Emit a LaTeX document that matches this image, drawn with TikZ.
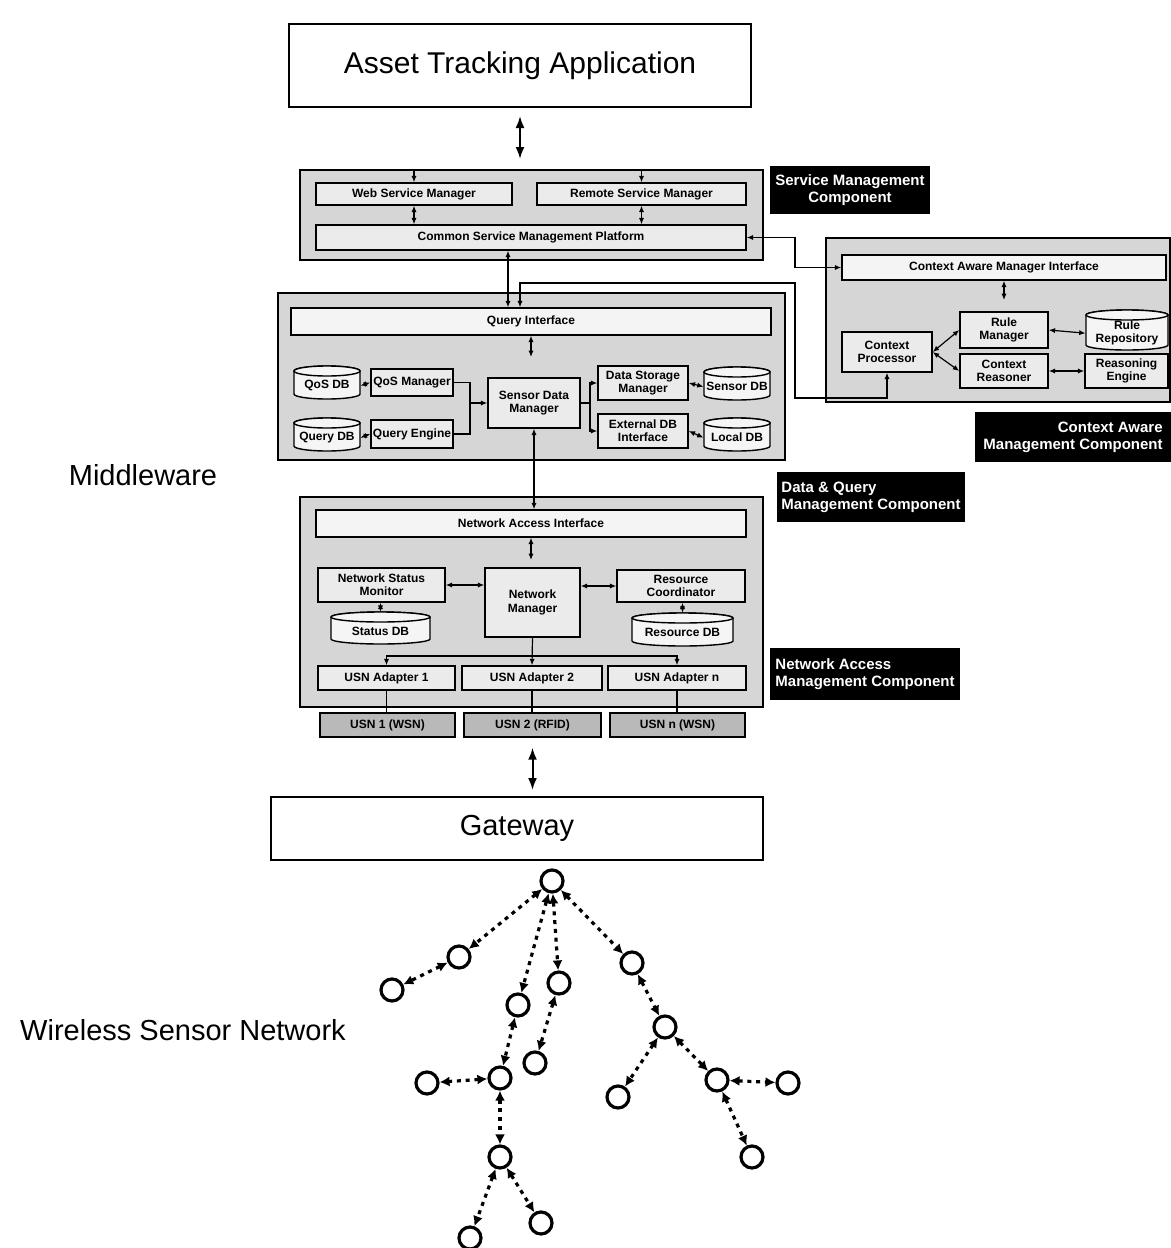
\documentclass[tikz,border=0pt]{standalone}
\usepackage{fontspec}
\setmainfont{Liberation Sans}
\usetikzlibrary{arrows.meta,calc}
% \bx{style}{name}{x1}{y1}{x2}{y2}{text}
\newcommand\bx[7]{%
  \node[#1, minimum width={(#5-#3)*0.5pt}, minimum height={(#6-#4)*0.5pt}] (#2) at ({(#3+#5)/2},{(#4+#6)/2}) {#7};%
}
\newcommand\dbnode[6]{%
  \filldraw[dbline] (#2,#3) -- (#2,#5)
    arc[start angle=180,end angle=360,x radius={(#4-#2)*0.25pt},y radius=2.5pt]
    -- (#4,#3)
    arc[start angle=0,end angle=180,x radius={(#4-#2)*0.25pt},y radius=2.5pt] -- cycle;
  \draw[dbline] ({(#2+#4)/2},#3) ellipse [x radius={(#4-#2)*0.25pt},y radius=2.5pt];
  \bx{dbtext}{#1}{#2}{#3}{#4}{#5}{#6}%
}
\begin{document}
\begin{tikzpicture}[x=0.5pt,y=-0.5pt,
  mainbox/.style={draw=black, line width=1pt, fill=white, inner sep=0pt, font=\fontsize{15}{18}\selectfont},
  outer/.style={draw=black, line width=1pt, fill=gray!32, inner sep=0pt},
  inner/.style={draw=black, line width=0.7pt, fill=gray!16, inner sep=0pt, align=center, font=\fontsize{6}{6.6}\selectfont\bfseries},
  iface/.style={inner, fill=gray!9},
  usnbox/.style={inner, fill=gray!55},
  dbline/.style={draw=black, line width=0.7pt, fill=gray!8},
  dbtext/.style={inner sep=0pt, align=center, yshift=-1.6pt, font=\fontsize{6}{6.4}\selectfont\bfseries},
  blk/.style={fill=black, text=white, inner sep=0pt, font=\fontsize{7.5}{8.6}\selectfont\bfseries},
  side/.style={font=\fontsize{14.5}{17}\selectfont},
  conn/.style={line width=0.6pt, -{Latex[length=3.2pt,width=2.6pt]}},
  bi/.style={line width=0.6pt, {Latex[length=3.2pt,width=2.6pt]}-{Latex[length=3.2pt,width=2.6pt]}},
  plain/.style={line width=0.6pt},
  bigbi/.style={line width=1pt, {Latex[length=6pt,width=4.5pt]}-{Latex[length=6pt,width=4.5pt]}},
  sn/.style={circle, draw=black, line width=1.6pt, minimum size=11pt, inner sep=0pt, fill=white},
  wsn/.style={line width=1.6pt, dash pattern=on 2pt off 2.4pt, {Latex[length=5pt,width=5pt]}-{Latex[length=5pt,width=5pt]}}
]
\useasboundingbox (0,0) rectangle (1171,1248);

% Application
\bx{mainbox}{app}{289}{24}{751}{107}{Asset Tracking Application}

% Service management component
\bx{outer}{smc}{300}{170}{763}{260}{}
\bx{inner}{wsm}{316}{183}{512}{205}{Web Service Manager}
\bx{inner}{rsm}{537}{183}{746}{205}{Remote Service Manager}
\bx{inner}{csmp}{316}{225}{746}{250}{Common Service Management Platform}
\bx{blk, align=center}{smclab}{770}{166}{930}{214}{Service Management\\Component}

% Context aware management component
\bx{outer}{cam}{826}{238}{1170}{402}{}
\bx{iface}{cami}{842}{255}{1166}{280}{Context Aware Manager Interface}
\bx{inner}{cp}{842}{332}{932}{372}{Context\\Processor}
\bx{inner}{rm}{960}{312}{1048}{348}{Rule\\Manager}
\bx{inner}{cr}{960}{354}{1048}{388}{Context\\Reasoner}
\dbnode{rr}{1086}{315}{1168}{345}{Rule\\Repository}
\bx{inner}{re}{1085}{354}{1168}{388}{Reasoning\\Engine}
\bx{blk, align=right}{calab}{975}{412}{1171}{462}{Context Aware\\Management Component}

% Data & query management component
\bx{outer}{dqm}{278}{293}{785}{460}{}
\bx{iface}{qi}{291}{308}{771}{335}{Query Interface}
\dbnode{qosdb}{294}{371}{360}{394}{QoS DB}
\bx{inner}{qosm}{371}{369}{453}{396}{QoS Manager}
\dbnode{querydb}{294}{423}{360}{446}{Query DB}
\bx{inner}{qe}{371}{420}{453}{448}{Query Engine}
\bx{inner}{sdm}{488}{378}{580}{428}{Sensor Data\\Manager}
\bx{inner}{dsm}{598}{366}{688}{400}{Data Storage\\Manager}
\bx{inner}{edi}{598}{414}{688}{448}{External DB\\Interface}
\dbnode{sensordb}{704}{372}{770}{395}{Sensor DB}
\dbnode{localdb}{704}{423}{770}{446}{Local DB}
\bx{blk, align=left}{dqlab}{777}{472}{965}{522}{Data \& Query\\Management Component}

% Network access management component
\bx{outer}{nam}{300}{497}{763}{707}{}
\bx{iface}{nai}{316}{510}{746}{537}{Network Access Interface}
\bx{inner}{nsm}{318}{568}{445}{602}{Network Status\\Monitor}
\dbnode{statusdb}{331}{617}{430}{639}{Status DB}
\bx{inner}{nm}{485}{568}{580}{637}{Network\\Manager}
\bx{inner}{rc}{617}{570}{745}{602}{Resource\\Coordinator}
\dbnode{resdb}{632}{618}{733}{641}{Resource DB}
\bx{inner}{ua1}{318}{666}{455}{690}{USN Adapter 1}
\bx{inner}{ua2}{462}{666}{602}{690}{USN Adapter 2}
\bx{inner}{uan}{608}{666}{746}{690}{USN Adapter n}
\bx{usnbox}{usn1}{320}{713}{455}{737}{USN 1 (WSN)}
\bx{usnbox}{usn2}{464}{713}{601}{737}{USN 2 (RFID)}
\bx{usnbox}{usnn}{610}{713}{745}{737}{USN n (WSN)}
\bx{blk, align=left}{nalab}{770}{648}{960}{700}{Network Access\\Management Component}

% Gateway
\bx{mainbox, font=\fontsize{14.5}{17}\selectfont}{gw}{271}{797}{763}{860}{Gateway}

% Side labels
\node[side] (mwlab) at (143,475) {Middleware};
\node[side] (wsnlab) at (183,1030) {Wireless Sensor Network};

% Helper coordinates
\coordinate (kx795) at (795,0);
\coordinate (k2) at (520,283);
\coordinate (k3) at (795,398);
\coordinate (k4) at (508,0);
\coordinate (jx1) at (470,0);
\coordinate (jx2) at (590,0);
\coordinate (bus) at (531,656);
\coordinate (qf) at (531,357);
\coordinate (cf) at (1004,300);
\coordinate (nf) at (531,560);

% Top level arrows
\draw[bigbi, shorten <=4pt, shorten >=5pt] (app.south) -- (smc.north -| app.south);
\draw[bigbi, shorten <=5pt, shorten >=3pt] (usn2.south) -- (gw.north -| usn2.south);

% Service management connectors
\draw[conn] (smc.north -| wsm.north) -- (wsm.north);
\draw[conn] (smc.north -| rsm.north) -- (rsm.north);
\draw[bi] (wsm.south) -- (wsm.south |- csmp.north);
\draw[bi] (rsm.south) -- (rsm.south |- csmp.north);
\draw[bi] (csmp.south -| k4) -- (qi.north -| k4);
\draw[bi] (csmp.east) -| (kx795 |- cami.west) -- (cami.west);

% Query interface to context processor
\draw[bi] (qi.north -| k2) -- (k2) -| (k3) -| (cp.south);

% Context aware internals
\draw[bi] (cami.south) -- (cf);
\draw[bi] (cp.east) -- (rm.west);
\draw[bi] (cp.east) -- (cr.west);
\draw[bi] (rm.east) -- (rr.west);
\draw[bi] (cr.east) -- (re.west);

% Data & query internals
\draw[bi] (qi.south) -- (qf);
\draw[bi] (qosdb.east) -- (qosm.west);
\draw[bi] (querydb.east) -- (qe.west);
\draw[plain] (qosm.east) -| (jx1 |- sdm.west);
\draw[plain] (qe.east) -| (jx1 |- sdm.west);
\draw[conn] (jx1 |- sdm.west) -- (sdm.west);
\draw[plain] (sdm.east) -- (jx2 |- sdm.east);
\draw[conn] (jx2 |- sdm.east) |- (dsm.west);
\draw[conn] (jx2 |- sdm.east) |- (edi.west);
\draw[bi] (dsm.east) -- (sensordb.west);
\draw[bi] (edi.east) -- (localdb.west);
\draw[bi] (sdm.south) -- (sdm.south |- nai.north);

% Network access internals
\draw[bi] (nai.south) -- (nf);
\draw[bi] (nsm.east) -- (nsm.east -| nm.west);
\draw[bi] (nm.east |- rc.west) -- (rc.west);
\draw[bi] (nsm.south -| statusdb.north) -- ([yshift=4pt]statusdb.north);
\draw[bi] (rc.south -| resdb.north) -- ([yshift=4pt]resdb.north);
\draw[conn] (nm.south) -- (ua2.north);
\draw[conn] (bus) -| (ua1.north);
\draw[conn] (bus) -| (uan.north);
\draw[plain] (ua1.south) -- (ua1.south |- usn1.north);
\draw[plain] (ua2.south) -- (ua2.south |- usn2.north);
\draw[plain] (uan.south) -- (uan.south |- usnn.north);

% Wireless sensor network
\node[sn] (n0) at (552,881) {};
\node[sn] (na) at (459,957) {};
\node[sn] (na1) at (392,990) {};
\node[sn] (nb) at (518,1005) {};
\node[sn] (nc) at (559,983) {};
\node[sn] (nc1) at (535,1063) {};
\node[sn] (nd) at (632,963) {};
\node[sn] (ne) at (665,1027) {};
\node[sn] (ne1) at (618,1097) {};
\node[sn] (nf1) at (717,1080) {};
\node[sn] (nf2) at (788,1083) {};
\node[sn] (nf3) at (752,1157) {};
\node[sn] (ng) at (500,1078) {};
\node[sn] (ng1) at (427,1083) {};
\node[sn] (nh) at (500,1157) {};
\node[sn] (nh1) at (470,1238) {};
\node[sn] (nh2) at (541,1223) {};

\draw[wsn] (n0) -- (na);
\draw[wsn] (na) -- (na1);
\draw[wsn] (n0) -- (nb);
\draw[wsn] (n0) -- (nc);
\draw[wsn] (nc) -- (nc1);
\draw[wsn] (n0) -- (nd);
\draw[wsn] (nd) -- (ne);
\draw[wsn] (ne) -- (ne1);
\draw[wsn] (ne) -- (nf1);
\draw[wsn] (nf1) -- (nf2);
\draw[wsn] (nf1) -- (nf3);
\draw[wsn] (nb) -- (ng);
\draw[wsn] (ng) -- (ng1);
\draw[wsn] (ng) -- (nh);
\draw[wsn] (nh) -- (nh1);
\draw[wsn] (nh) -- (nh2);
\end{tikzpicture}
\end{document}
